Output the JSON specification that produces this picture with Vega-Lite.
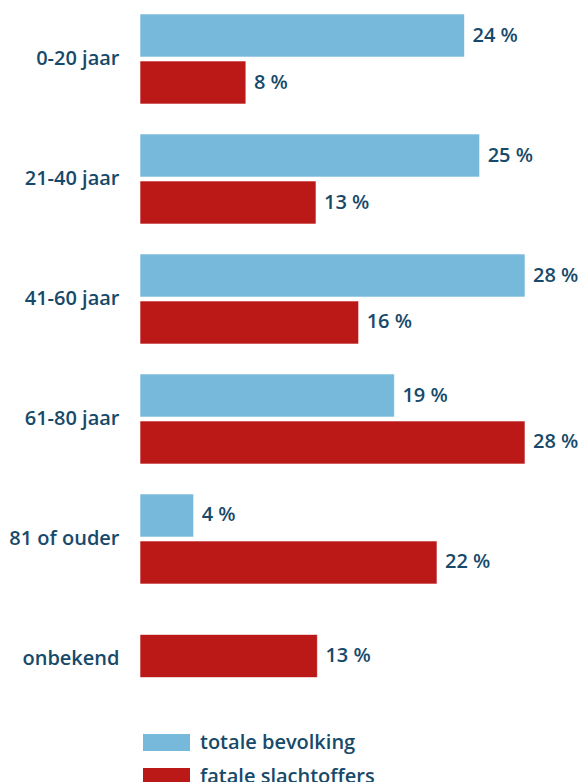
{
  "$schema": "https://vega.github.io/schema/vega-lite/v6.json",
  "autosize": {"type": "none"},
  "width": 440,
  "height": 718,
  "padding": {"left": 140, "top": 0, "right": 6, "bottom": 64},
  "background": "white",
  "config": {
    "view": {"stroke": null},
    "font": "Open Sans",
    "text": {"font": "Open Sans"}
  },
  "data": {
    "values": [
      {"leeftijd": "0-20 jaar", "groep": "totale bevolking", "pct": 23.6, "label": "24 %"},
      {"leeftijd": "0-20 jaar", "groep": "fatale slachtoffers", "pct": 7.7, "label": "8 %"},
      {"leeftijd": "21-40 jaar", "groep": "totale bevolking", "pct": 24.7, "label": "25 %"},
      {"leeftijd": "21-40 jaar", "groep": "fatale slachtoffers", "pct": 12.8, "label": "13 %"},
      {"leeftijd": "41-60 jaar", "groep": "totale bevolking", "pct": 28.0, "label": "28 %"},
      {"leeftijd": "41-60 jaar", "groep": "fatale slachtoffers", "pct": 15.9, "label": "16 %"},
      {"leeftijd": "61-80 jaar", "groep": "totale bevolking", "pct": 18.5, "label": "19 %"},
      {"leeftijd": "61-80 jaar", "groep": "fatale slachtoffers", "pct": 28.0, "label": "28 %"},
      {"leeftijd": "81 of ouder", "groep": "totale bevolking", "pct": 3.9, "label": "4 %"},
      {"leeftijd": "81 of ouder", "groep": "fatale slachtoffers", "pct": 21.6, "label": "22 %"},
      {"leeftijd": "onbekend", "groep": "fatale slachtoffers", "pct": 12.9, "label": "13 %"}
    ]
  },
  "encoding": {
    "y": {
      "field": "leeftijd",
      "type": "nominal",
      "scale": {
        "domain": ["0-20 jaar", "21-40 jaar", "41-60 jaar", "61-80 jaar", "81 of ouder", "onbekend"],
        "paddingInner": 0.25,
        "paddingOuter": 0.1167
      },
      "axis": {
        "title": null,
        "domain": false,
        "ticks": false,
        "labelPadding": 21,
        "labelFontSize": 20,
        "labelFont": "Open Sans",
        "labelFontWeight": 600,
        "labelColor": "#174a6a"
      }
    },
    "x": {
      "field": "pct",
      "type": "quantitative",
      "scale": {"domain": [0, 32], "nice": false, "zero": true},
      "axis": null
    }
  },
  "layer": [
    {
      "transform": [{"filter": "datum.leeftijd !== 'onbekend'"}],
      "layer": [
        {
          "mark": {"type": "bar", "stroke": "white", "strokeWidth": 0.6},
          "encoding": {
            "yOffset": {
              "field": "groep",
              "type": "nominal",
              "scale": {"domain": ["totale bevolking", "fatale slachtoffers"], "paddingInner": 0.085, "paddingOuter": 0}
            },
            "color": {
              "field": "groep",
              "type": "nominal",
              "scale": {"domain": ["totale bevolking", "fatale slachtoffers"], "range": ["#76b9da", "#bb1818"]},
              "legend": {
                "title": null,
                "orient": "none",
                "legendX": 3,
                "legendY": 719,
                "symbolType": "M-1,-0.362H1V0.362H-1Z",
                "symbolSize": 2209,
                "symbolStrokeWidth": 0,
                "labelFontSize": 20,
                "labelFont": "Open Sans",
                "labelFontWeight": 600,
                "labelColor": "#174a6a",
                "labelOffset": 10,
                "labelLimit": 400,
                "rowPadding": -1
              }
            }
          }
        },
        {
          "mark": {"type": "text", "align": "left", "baseline": "middle", "dx": 8, "fontSize": 20, "fontWeight": 600, "color": "#174a6a"},
          "encoding": {
            "yOffset": {"field": "groep", "type": "nominal"},
            "text": {"field": "label"}
          }
        }
      ]
    },
    {
      "transform": [{"filter": "datum.leeftijd === 'onbekend'"}],
      "layer": [
        {
          "mark": {"type": "bar", "stroke": "white", "strokeWidth": 0.6, "color": "#bb1818", "height": {"band": 0.478}, "yOffset": -3}
        },
        {
          "mark": {"type": "text", "align": "left", "baseline": "middle", "dx": 8, "yOffset": -3, "fontSize": 20, "fontWeight": 600, "color": "#174a6a"},
          "encoding": {"text": {"field": "label"}}
        }
      ]
    }
  ]
}
